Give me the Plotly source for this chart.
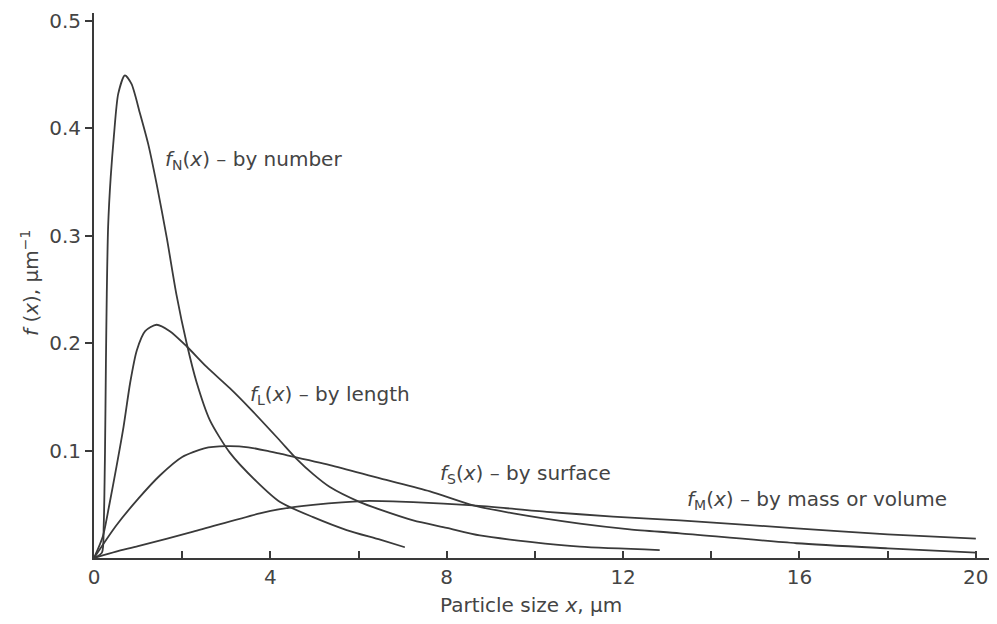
import plotly.graph_objects as go

# ---- data ----
fN_x = [0, 0.18, 0.22, 0.25, 0.27, 0.29, 0.32, 0.38, 0.45, 0.55, 0.70, 0.85, 1.04, 1.23, 1.42, 1.65, 1.87, 2.10, 2.33, 2.63, 3.08, 3.69, 4.22, 4.97, 5.73, 6.49, 7.05]
fN_y = [0, 0.005, 0.03, 0.10, 0.18, 0.246, 0.308, 0.355, 0.392, 0.432, 0.449, 0.441, 0.414, 0.385, 0.348, 0.298, 0.245, 0.200, 0.163, 0.128, 0.098, 0.071, 0.052, 0.038, 0.026, 0.017, 0.010]

fL_x = [0, 0.2, 0.35, 0.51, 0.67, 0.82, 0.97, 1.16, 1.42, 1.72, 2.10, 2.55, 3.08, 3.54, 4.2, 4.6, 4.97, 5.35, 6.03, 6.49, 7.24, 8.0, 8.75, 9.89, 11.02, 12.83]
fL_y = [0, 0.02, 0.05, 0.085, 0.122, 0.163, 0.193, 0.211, 0.217, 0.211, 0.197, 0.178, 0.158, 0.139, 0.110, 0.092, 0.078, 0.066, 0.052, 0.045, 0.035, 0.028, 0.021, 0.015, 0.0105, 0.0074]

fS_x = [0, 0.5, 1.0, 1.5, 2.0, 2.5, 3.0, 3.5, 4.0, 4.22, 5.35, 6.49, 7.62, 8.6, 9.51, 11.02, 12.15, 13.29, 15.93, 18.0, 20.0]
fS_y = [0, 0.03, 0.055, 0.077, 0.094, 0.102, 0.104, 0.103, 0.099, 0.097, 0.0865, 0.074, 0.062, 0.049, 0.0415, 0.032, 0.0267, 0.023, 0.0137, 0.009, 0.005]

fM_x = [0, 0.5, 1, 2.25, 3.76, 4.22, 4.97, 6.11, 7.24, 8.6, 10.27, 11.77, 13.29, 15.93, 18.0, 20.0]
fM_y = [0, 0.006, 0.011, 0.0245, 0.0415, 0.0455, 0.0495, 0.053, 0.052, 0.049, 0.043, 0.0385, 0.035, 0.0276, 0.022, 0.018]

x_tickvals = [0, 4, 8, 12, 16, 20]
x_ticktext = ["0", "4", "8", "12", "16", "20"]
y_tickvals = [0.1, 0.2, 0.3, 0.4, 0.5]
y_ticktext = ["0.1", "0.2", "0.3", "0.4", "0.5"]

labels = [
    ("<i>f</i><sub>N</sub>(<i>x</i>) – by number", 1.56, 0.370),
    ("<i>f</i><sub>L</sub>(<i>x</i>) – by length", 3.50, 0.152),
    ("<i>f</i><sub>S</sub>(<i>x</i>) – by surface", 7.80, 0.078),
    ("<i>f</i><sub>M</sub>(<i>x</i>) – by mass or volume", 13.40, 0.054),
]

LINE = "#3a3a3a"
TEXT = "#444444"
FONT = "DejaVu Sans, sans-serif"

# the page body has an 8 px margin, so the figure is 989x616 and offsets are reduced by 8
W, H = 989, 616
L, R, T, B = 86, 0, 5, 66
PH = H - T - B

fig = go.Figure()
for xs, ys in [(fN_x, fN_y), (fL_x, fL_y), (fS_x, fS_y), (fM_x, fM_y)]:
    fig.add_trace(go.Scatter(x=xs, y=ys, mode="lines",
                             line=dict(color=LINE, width=1.8, shape="spline", smoothing=0.7),
                             showlegend=False, hoverinfo="skip"))

for txt, x, y in labels:
    fig.add_annotation(x=x, y=y, xref="x", yref="y", text=txt, showarrow=False,
                       xanchor="left", yanchor="middle",
                       font=dict(family=FONT, size=20, color=TEXT))

# x axis title (x in data units, y in paper units below the plot)
fig.add_annotation(x=9.9, y=-47 / PH, xref="x", yref="paper",
                   text="Particle size <i>x</i>, µm", showarrow=False,
                   xanchor="center", yanchor="middle",
                   font=dict(family=FONT, size=20, color=TEXT))
# y axis title (pixel-based paper coords)
fig.add_annotation(x=(22 - L) / (W - L - R), y=(H - B - 275) / PH,
                   xref="paper", yref="paper",
                   text="<i>f</i> (<i>x</i>), µm<sup>−1</sup>", showarrow=False,
                   textangle=-90, xanchor="center", yanchor="middle",
                   font=dict(family=FONT, size=20, color=TEXT))

fig.update_layout(
    width=W, height=H,
    margin=dict(l=L, r=R, t=T, b=B, autoexpand=False),
    paper_bgcolor="white", plot_bgcolor="white",
    font=dict(family=FONT, size=20, color=TEXT),
)
fig.update_xaxes(range=[0, 20.48], showgrid=False, zeroline=False, automargin=False,
                 showline=True, linecolor=LINE, linewidth=2,
                 tickvals=x_tickvals, ticktext=x_ticktext,
                 ticks="inside", ticklen=7, tickwidth=1.5, tickcolor=LINE,
                 minor=dict(tick0=0, dtick=2, ticks="inside", ticklen=7, tickwidth=1.5,
                            tickcolor=LINE, showgrid=False),
                 tickfont=dict(family=FONT, size=20, color=TEXT))
fig.update_yaxes(range=[0, 0.507], showgrid=False, zeroline=False, automargin=False,
                 showline=True, linecolor=LINE, linewidth=2,
                 tickvals=y_tickvals, ticktext=y_ticktext,
                 ticks="outside", ticklen=7, tickwidth=1.5, tickcolor=LINE,
                 tickfont=dict(family=FONT, size=20, color=TEXT))

fig.write_html("out.html")
